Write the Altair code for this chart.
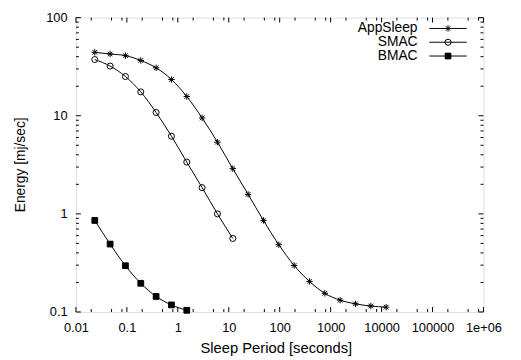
import altair as alt
import pandas as pd

# ---- data ----
sleep_period = [0.0234375, 0.046875, 0.09375, 0.1875, 0.375, 0.75, 1.5, 3, 6, 12,
                24, 48, 96, 192, 384, 768, 1536, 3072, 6144, 12288]
appsleep = [44.3, 42.6, 41.0, 36.6, 30.8, 23.4, 15.7, 9.5, 5.38, 2.89,
            1.58, 0.857, 0.485, 0.298, 0.205, 0.155, 0.132, 0.121, 0.115, 0.112]
smac = [37.4, 32.1, 25.1, 17.5, 10.8, 6.19, 3.37, 1.85, 1.0, 0.562]
bmac = [0.857, 0.492, 0.296, 0.196, 0.144, 0.118, 0.104]
series_names = ["AppSleep", "SMAC", "BMAC"]

x_tick_values = [0.01, 0.1, 1, 10, 100, 1000, 10000, 100000, 1000000]
x_tick_labels = ["0.01", "0.1", "1", "10", "100", "1000", "10000", "100000", "1e+06"]
x_minor_mult = [2, 5, 8]
y_tick_values = [0.1, 1, 10, 100]
y_tick_labels = ["0.1", "1", "10", "100"]
y_minor_mult = [2, 3, 4, 5, 6, 7, 8, 9]

# ---- tables ----
rows = []
for name, vals in zip(series_names, [appsleep, smac, bmac]):
    for xv, yv in zip(sleep_period, vals):
        rows.append({"series": name, "period": xv, "energy": yv})
df = pd.DataFrame(rows)

x_minor = [m * v for v in x_tick_values[:-1] for m in x_minor_mult]
y_minor = [m * v for v in y_tick_values[:-1] for m in y_minor_mult]
xt = pd.DataFrame({"v": x_tick_values + x_minor,
                   "len": [5] * len(x_tick_values) + [3] * len(x_minor)})
yt = pd.DataFrame({"v": y_tick_values + y_minor,
                   "len": [5] * len(y_tick_values) + [3] * len(y_minor)})
leg = pd.DataFrame({"series": series_names})

W, H = 414, 299
FONT = "Liberation Sans"


def label_expr(values, labels):
    expr = "''"
    for v, l in zip(reversed(values), reversed(labels)):
        expr = f"(abs(datum.value - {v}) < {v}*1e-6 ? '{l}' : {expr})"
    return expr


xscale = alt.Scale(type="log", domain=[0.01, 1000000], nice=False)
yscale = alt.Scale(type="log", domain=[0.1, 100], nice=False)

shape_scale = alt.Scale(domain=series_names,
                        range=["M-1,0L1,0M0,-1L0,1M-0.72,-0.72L0.72,0.72M-0.72,0.72L0.72,-0.72",
                               "circle", "square"])
fill_scale = alt.Scale(domain=series_names, range=["transparent", "transparent", "black"])
size_scale = alt.Scale(domain=series_names, range=[42, 34, 26])

x_enc = alt.X("period:Q", scale=xscale,
              axis=alt.Axis(values=x_tick_values, labelExpr=label_expr(x_tick_values, x_tick_labels),
                            ticks=False, tickSize=0, domain=False, grid=False,
                            labelFont=FONT, labelFontSize=13, labelColor="black",
                            labelPadding=10, labelFlush=False, labelOverlap=False,
                            title="Sleep Period [seconds]", titleFont=FONT, titleFontSize=15,
                            titleFontWeight="normal", titleColor="black",
                            titleX=203, titleY=41, titleBaseline="alphabetic"))
y_enc = alt.Y("energy:Q", scale=yscale,
              axis=alt.Axis(values=y_tick_values, labelExpr=label_expr(y_tick_values, y_tick_labels),
                            ticks=False, tickSize=0, domain=False, grid=False,
                            labelFont=FONT, labelFontSize=13, labelColor="black",
                            labelPadding=9, labelFlush=False, labelOverlap=False,
                            title="Energy [mj/sec]", titleFont=FONT, titleFontSize=14,
                            titleFontWeight="normal", titleColor="black",
                            titleX=-56, titleY=149, titleAngle=-90,
                            titleAlign="center", titleBaseline="middle"))

base = alt.Chart(df)
lines = base.mark_line(interpolate="monotone", color="black", strokeWidth=1).encode(
    x=x_enc, y=y_enc, detail="series:N")
points = base.mark_point(stroke="black", strokeWidth=1, opacity=1).encode(
    x=alt.X("period:Q", scale=xscale),
    y=alt.Y("energy:Q", scale=yscale),
    shape=alt.Shape("series:N", scale=shape_scale, legend=None),
    fill=alt.Fill("series:N", scale=fill_scale, legend=None),
    size=alt.Size("series:N", scale=size_scale, legend=None))

xs = alt.X("v:Q", scale=xscale)
ys = alt.Y("v:Q", scale=yscale)
tick_bottom = alt.Chart(xt).transform_calculate(y0=f"{H}", y1=f"{H} - datum.len").mark_rule(
    color="black", strokeWidth=1).encode(
    x=xs, y=alt.Y("y0:Q", scale=None), y2="y1:Q")
tick_top = alt.Chart(xt).transform_calculate(y0="0", y1="datum.len").mark_rule(
    color="black", strokeWidth=1).encode(
    x=xs, y=alt.Y("y0:Q", scale=None), y2="y1:Q")
tick_left = alt.Chart(yt).transform_calculate(x0="0", x1="datum.len").mark_rule(
    color="black", strokeWidth=1).encode(
    y=ys, x=alt.X("x0:Q", scale=None), x2="x1:Q")
tick_right = alt.Chart(yt).transform_calculate(x0=f"{W}", x1=f"{W} - datum.len").mark_rule(
    color="black", strokeWidth=1).encode(
    y=ys, x=alt.X("x0:Q", scale=None), x2="x1:Q")

# legend (gnuplot style: label, then line sample with marker)
leg_base = alt.Chart(leg).transform_window(idx="row_number()").transform_calculate(
    py="11 + 14 * (datum.idx - 1)")
ly = alt.Y("py:Q", scale=None)
leg_text = leg_base.mark_text(align="right", baseline="middle", font=FONT, fontSize=14,
                              color="black").encode(
    x=alt.value(347), y=ly, text="series:N")
leg_rule = leg_base.mark_rule(color="black", strokeWidth=1).encode(
    x=alt.value(359), x2=alt.value(397), y=ly)
leg_pts = leg_base.mark_point(stroke="black", strokeWidth=1, opacity=1).encode(
    x=alt.value(378), y=ly,
    shape=alt.Shape("series:N", scale=shape_scale, legend=None),
    fill=alt.Fill("series:N", scale=fill_scale, legend=None),
    size=alt.Size("series:N", scale=size_scale, legend=None))

chart = alt.layer(lines, points, tick_bottom, tick_top, tick_left, tick_right,
                  leg_text, leg_rule, leg_pts).properties(
    width=W, height=H,
    autosize=alt.AutoSizeParams(type="none"),
    padding={"left": 69, "top": 7, "right": 30, "bottom": 46},
).configure_view(stroke="black", strokeWidth=1).configure(background="white")

chart.save("out.html", embed_options={"renderer": "svg", "actions": False})
